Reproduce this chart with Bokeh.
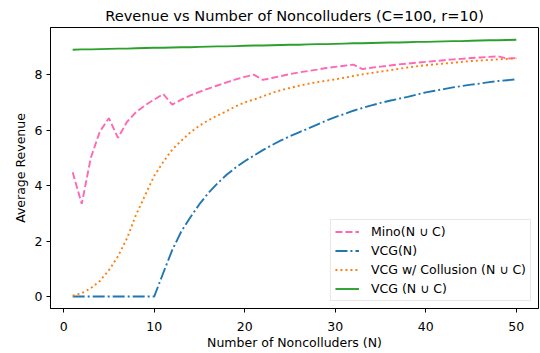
from bokeh.plotting import figure
from bokeh.models import Range1d, Legend, LegendItem, FixedTicker
from bokeh.embed import file_html
from bokeh.resources import INLINE

# ---- data ----
n_values = list(range(1, 51))

mino = [4.48, 3.34, 5.00, 5.95, 6.43, 5.72, 6.30, 6.65, 6.90, 7.10,
        7.30, 6.92, 7.10, 7.25, 7.38, 7.50, 7.61, 7.72, 7.83, 7.92,
        8.00, 7.81, 7.88, 7.95, 8.02, 8.08, 8.13, 8.18, 8.24, 8.28,
        8.32, 8.36, 8.20, 8.25, 8.29, 8.33, 8.37, 8.40, 8.43, 8.46,
        8.49, 8.52, 8.55, 8.57, 8.60, 8.62, 8.64, 8.66, 8.58, 8.60]

vcg_n = [0.00, 0.00, 0.00, 0.00, 0.00, 0.00, 0.00, 0.00, 0.00, 0.00,
         0.85, 1.68, 2.35, 2.86, 3.33, 3.74, 4.08, 4.39, 4.65, 4.88,
         5.08, 5.28, 5.46, 5.63, 5.78, 5.92, 6.06, 6.20, 6.34, 6.47,
         6.58, 6.70, 6.80, 6.89, 6.98, 7.06, 7.13, 7.20, 7.28, 7.36,
         7.42, 7.48, 7.54, 7.59, 7.64, 7.68, 7.73, 7.77, 7.80, 7.83]

vcg_collusion = [0.03, 0.12, 0.30, 0.56, 0.95, 1.45, 2.10, 2.95, 3.65, 4.35,
                 4.85, 5.30, 5.62, 5.92, 6.16, 6.36, 6.53, 6.68, 6.86, 7.00,
                 7.10, 7.22, 7.34, 7.44, 7.52, 7.60, 7.67, 7.73, 7.78, 7.83,
                 7.89, 7.95, 8.01, 8.06, 8.11, 8.16, 8.21, 8.26, 8.30, 8.34,
                 8.37, 8.40, 8.43, 8.46, 8.49, 8.51, 8.53, 8.55, 8.57, 8.59]

vcg_all = [8.90, 8.91, 8.91, 8.92, 8.93, 8.94, 8.94, 8.95, 8.96, 8.97,
           8.97, 8.98, 8.99, 8.99, 9.00, 9.01, 9.02, 9.02, 9.03, 9.04,
           9.05, 9.05, 9.06, 9.07, 9.08, 9.08, 9.09, 9.10, 9.10, 9.11,
           9.12, 9.13, 9.13, 9.14, 9.15, 9.16, 9.16, 9.17, 9.18, 9.18,
           9.19, 9.20, 9.21, 9.21, 9.22, 9.23, 9.24, 9.24, 9.25, 9.26]

x_ticks = [0, 10, 20, 30, 40, 50]
y_ticks = [0, 2, 4, 6, 8]

series_labels = ["Mino(N \u222a C)", "VCG(N)", "VCG w/ Collusion (N \u222a C)", "VCG (N \u222a C)"]

FONT = "DejaVu Sans"

p = figure(width=540, height=353, output_backend="svg", toolbar_location=None,
           x_range=Range1d(-1.45, 52.45), y_range=Range1d(-0.43, 9.70),
           title="Revenue vs Number of Noncolluders (C=100, r=10)",
           min_border_left=50, min_border_right=2, min_border_top=27, min_border_bottom=45)

p.title.text_font = FONT
p.title.text_font_size = "14.6px"
p.title.text_font_style = "normal"
p.title.align = "center"
p.title.text_color = "black"
p.title.standoff = 7

p.xgrid.visible = False
p.ygrid.visible = False
p.outline_line_color = "black"
p.outline_line_width = 1
p.background_fill_color = "white"
p.border_fill_color = "white"

for ax, ticks in ((p.xaxis, x_ticks), (p.yaxis, y_ticks)):
    ax.ticker = FixedTicker(ticks=ticks)
    ax.minor_tick_line_color = None
    ax.major_tick_in = 0
    ax.major_tick_out = 4
    ax.major_tick_line_color = "black"
    ax.axis_line_color = "black"
    ax.major_label_text_font = FONT
    ax.major_label_text_font_size = "12.5px"
    ax.major_label_text_color = "black"
    ax.axis_label_text_font = FONT
    ax.axis_label_text_font_size = "12.5px"
    ax.axis_label_text_font_style = "normal"
    ax.axis_label_text_color = "black"

p.xaxis.axis_label = "Number of Noncolluders (N)"
p.yaxis.axis_label = "Average Revenue"
p.xaxis.major_label_standoff = 9
p.xaxis.axis_label_standoff = 1
p.yaxis.major_label_standoff = 4
p.yaxis.axis_label_standoff = 4

r1 = p.line(n_values, mino, line_color="#ff69b4", line_width=1.9, line_dash="7 3")
r2 = p.line(n_values, vcg_n, line_color="#1f77b4", line_width=1.9, line_dash="12 3 2 3")
r3 = p.line(n_values, vcg_collusion, line_color="#ff7f0e", line_width=1.9, line_dash="2 3")
r4 = p.line(n_values, vcg_all, line_color="#2ca02c", line_width=1.9)

legend = Legend(items=[LegendItem(label=series_labels[0], renderers=[r1]),
                       LegendItem(label=series_labels[1], renderers=[r2]),
                       LegendItem(label=series_labels[2], renderers=[r3]),
                       LegendItem(label=series_labels[3], renderers=[r4])],
                location="bottom_right")
legend.label_text_font = FONT
legend.label_text_font_size = "12.5px"
legend.label_text_color = "black"
legend.glyph_width = 24
legend.glyph_height = 15
legend.label_height = 15
legend.label_standoff = 12
legend.spacing = 4
legend.padding = 4
legend.margin = 7
legend.border_line_color = "#d0d0d0"
legend.border_line_width = 1
legend.background_fill_alpha = 0.8
p.add_layout(legend)

open("out.html", "w").write(file_html(p, INLINE))
